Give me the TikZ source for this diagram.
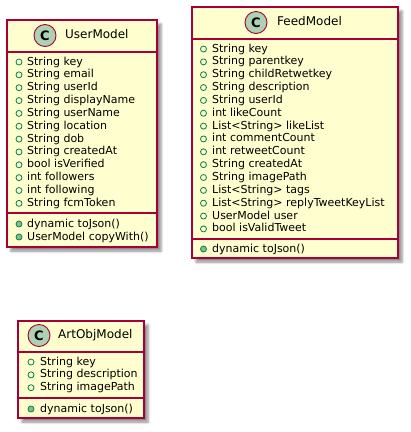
\documentclass[tikz,border=0pt]{standalone}
\usepackage{fontspec}
\setmainfont{DejaVu Sans}
\usetikzlibrary{shadows.blur,calc}
\definecolor{umlfill}{HTML}{FEFECE}
\definecolor{umlborder}{HTML}{A80036}
\definecolor{umlcirc}{HTML}{ADD1B2}
\definecolor{fieldgreen}{HTML}{038048}
\definecolor{methgreen}{HTML}{84BE84}
\begin{document}
\begin{tikzpicture}[x=1pt,y=-1pt,
  classbox/.style={draw=umlborder, fill=umlfill, line width=1.4pt, inner sep=0pt, outer sep=0pt, anchor=north west,
    blur shadow={shadow xshift=4pt, shadow yshift=-4pt, shadow blur radius=2.5pt, shadow opacity=45}},
  sepline/.style={draw=umlborder, line width=1.4pt},
  cicon/.style={circle, draw=umlborder, fill=umlcirc, line width=0.9pt, minimum size=22pt, inner sep=0pt,
    font=\fontsize{13}{13}\selectfont\bfseries},
  titletxt/.style={anchor=west, inner sep=0pt, font=\fontsize{12}{14}\selectfont, text height=9pt, text depth=2.5pt},
  ftext/.style={anchor=west, inner sep=0pt, font=\fontsize{11}{13}\selectfont, text height=8pt, text depth=2pt},
  ficon/.style={circle, draw=fieldgreen, fill=none, line width=0.8pt, minimum size=6pt, inner sep=0pt},
  micon/.style={circle, draw=fieldgreen, fill=methgreen, line width=0.8pt, minimum size=6pt, inner sep=0pt}]
\useasboundingbox (0,0) rectangle (411,432);

% ---------- UserModel ----------
\node[classbox, minimum width=150pt, minimum height=227pt] (user) at (7,20) {};
\draw[sepline] (7,52) -- (157,52);
\draw[sepline] (7,213) -- (157,213);
\node[cicon] (userC) at (45,35.5) {C};
\node[titletxt] (userT) at (65,35.5) {UserModel};
\foreach \t [count=\i] in {String key, String email, String userId, String displayName, String userName,
  String location, String dob, String createdAt, bool isVerified, int followers, int following, String fcmToken}{
  \node[ftext] (uf\i) at (27,62+12.85*\i-12.85) {\t};
  \node[ficon] (ufi\i) at ($(uf\i.west)+(-8,0)$) {};
}
\foreach \t [count=\i] in {dynamic toJson(), UserModel copyWith()}{
  \node[ftext] (um\i) at (27,224+13*\i-13) {\t};
  \node[micon] (umi\i) at ($(um\i.west)+(-8,0)$) {};
}

% ---------- FeedModel ----------
\node[classbox, minimum width=206pt, minimum height=251pt] (feed) at (192,7) {};
\draw[sepline] (192,39) -- (398,39);
\draw[sepline] (192,239) -- (398,239);
\node[cicon] (feedC) at (256,22.5) {C};
\node[titletxt] (feedT) at (277,22.5) {FeedModel};
\foreach \t [count=\i] in {String key, String parentkey, String childRetwetkey, String description, String userId,
  int likeCount, List<String> likeList, int commentCount, int retweetCount, String createdAt, String imagePath,
  List<String> tags, List<String> replyTweetKeyList, UserModel user, bool isValidTweet}{
  \node[ftext] (ff\i) at (212,49+12.85*\i-12.85) {\t};
  \node[ficon] (ffi\i) at ($(ff\i.west)+(-8.5,0)$) {};
}
\node[ftext] (fm1) at (212,249) {dynamic toJson()};
\node[micon] (fmi1) at ($(fm1.west)+(-8.5,0)$) {};

% ---------- ArtObjModel ----------
\node[classbox, minimum width=126pt, minimum height=97pt] (art) at (18,321) {};
\draw[sepline] (18,352) -- (144,352);
\draw[sepline] (18,398) -- (144,398);
\node[cicon] (artC) at (39,335.5) {C};
\node[titletxt] (artT) at (58,335.5) {ArtObjModel};
\foreach \t [count=\i] in {String key, String description, String imagePath}{
  \node[ftext] (af\i) at (40,362+12.85*\i-12.85) {\t};
  \node[ficon] (afi\i) at ($(af\i.west)+(-9,0)$) {};
}
\node[ftext] (am1) at (40,409) {dynamic toJson()};
\node[micon] (ami1) at ($(am1.west)+(-9,0)$) {};
\end{tikzpicture}
\end{document}
